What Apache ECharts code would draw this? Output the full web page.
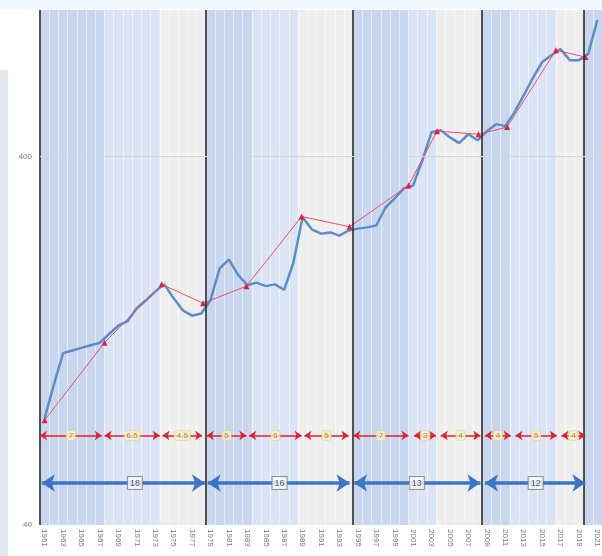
<!DOCTYPE html>
<html lang="en">
<head>
    <meta charset="UTF-8">
    <title>chart</title>
    <script src="https://cdn.jsdelivr.net/npm/echarts@6/dist/echarts.min.js"></script>
    <style>
        html, body { margin: 0; padding: 0; background: #fff; }
        #main { width: 602px; height: 556px; }
    </style>
</head>
<body>
<div id="main"></div>
<script type="text/javascript">
    // categories: one per year
    var firstYear = 1961;
    var years = [];
    for (var yr = 1961; yr <= 2021; yr++) years.push(String(yr));

    // main series (blue line), one value per year 1961..2021
    var values = [78, 96, 117, 119, 121, 123, 125, 132, 139, 143,
        155, 163, 172, 180, 165, 153, 148, 150, 163, 199,
        210, 191, 179, 182, 178, 180, 174, 206, 274, 254,
        247, 249, 244, 252, 255, 257, 260, 291, 308, 328,
        334, 391, 466, 472, 451, 435, 460, 443, 469, 490,
        484, 528, 587, 653, 722, 754, 783, 731, 731, 760, 940];

    // red line through the turning points
    var peakYears = [1961, 1967.5, 1973.7, 1978.2, 1982.9, 1988.9, 1994.1, 2000.5, 2003.6, 2008.1, 2011.2, 2016.5, 2019.7];
    var peakValues = [77, 125, 180, 160, 178, 275, 258, 334, 469, 460, 481, 778, 745];

    // small red spans between turning points
    var redFrom = [1960.5, 1967.5, 1973.8, 1978.6, 1983.2, 1989.2, 1994.5, 2001.1, 2004.0, 2008.8, 2012.1, 2017.1];
    var redTo = [1967.2, 1973.5, 1978.1, 1982.9, 1988.9, 1994.0, 2000.5, 2003.5, 2008.3, 2011.6, 2016.6, 2019.7];
    var redLabels = ['7', '6.5', '4.5', '5', '6', '5', '7', '3', '4', '4', '5', '4'];

    // big blue spans (cycles)
    var blueFrom = [1960.7, 1978.7, 1994.6, 2008.8];
    var blueTo = [1978.4, 1994.1, 2008.3, 2019.7];
    var blueLabels = ['18', '16', '13', '12'];
    var blueLabelAt = [1970.8, 1986.5, 2001.4, 2014.3];

    // cycle starts (black lines) and shaded phases
    var cycleStarts = [1961, 1979, 1995, 2009, 2020];
    var phaseFrom = [1961, 1968, 1974, 1979, 1984, 1989, 1995, 2001, 2004, 2009, 2012, 2017, 2020];
    var phaseKind = ['a', 'b', 'c', 'a', 'b', 'c', 'a', 'b', 'c', 'a', 'b', 'c', 'a'];

    var yTicks = [40, 400];

    var phaseColor = {a: '#c8d6ee', b: '#dbe4f4', c: '#efeeee'};
    var redRow = 70, blueRow = 52;

    function pos(y) { return y - firstYear; }

    var areas = phaseFrom.map(function (f, i) {
        var to = i < phaseFrom.length - 1 ? phaseFrom[i + 1] : 2022;
        return [{xAxis: pos(f) - 0.5, itemStyle: {color: phaseColor[phaseKind[i]]}}, {xAxis: pos(to) - 0.5}];
    });

    var refLines = cycleStarts.map(function (s) {
        return {xAxis: pos(s) - 0.5, lineStyle: {color: '#2a2a2a', width: 1.6, type: 'solid'}, label: {show: false}};
    });
    yTicks.forEach(function (t, i) {
        refLines.push({
            yAxis: t,
            lineStyle: {color: i === 0 ? 'rgba(0,0,0,0)' : '#d6d6d6', width: 1, type: 'solid'},
            label: {show: true, position: 'start', formatter: String(t), color: '#777', fontSize: 8, distance: 8}
        });
    });

    var labelBase = {
        show: true, position: 'inside',
        formatter: function (p) { return p.value[2]; }
    };

    var myChart = echarts.init(document.getElementById('main'));

    var option = {
        backgroundColor: '#ffffff',
        animation: false,
        textStyle: {fontFamily: 'Liberation Sans, Arial, sans-serif'},
        graphic: [
            {type: 'rect', silent: true, z: -10, shape: {x: 0, y: 0, width: 602, height: 9}, style: {fill: '#f3f8fd'}},
            {type: 'rect', silent: true, z: -10, shape: {x: 0, y: 70, width: 8, height: 486}, style: {fill: '#e4e8ed'}}
        ],
        grid: {left: 40, right: -2, top: 10, bottom: 31},
        xAxis: [{
            type: 'category',
            data: years,
            boundaryGap: true,
            z: 2,
            axisLine: {show: false},
            axisTick: {show: false},
            axisLabel: {interval: 1, rotate: -90, fontSize: 8, color: '#777', margin: 4},
            splitLine: {show: true, interval: 0, lineStyle: {color: 'rgba(255,255,255,0.55)', width: 1}}
        }, {
            type: 'value',
            show: false,
            position: 'top',
            min: -0.5,
            max: years.length - 0.5
        }],
        yAxis: {
            type: 'log',
            logBase: 10,
            min: 40,
            max: 1000,
            axisLine: {show: false},
            axisTick: {show: false},
            axisLabel: {show: false},
            splitLine: {show: false}
        },
        series: [
            {
                type: 'line', xAxisIndex: 1, z: 1, silent: true, data: [],
                markArea: {silent: true, data: areas}
            },
            {
                type: 'line', xAxisIndex: 1, z: 2.5, silent: true, data: [],
                markLine: {silent: true, symbol: 'none', data: refLines}
            },
            {
                name: 'value', type: 'line', xAxisIndex: 0, z: 3,
                data: values, symbol: 'none',
                lineStyle: {color: '#5b8dcc', width: 2.5},
                itemStyle: {color: '#5b8dcc'}
            },
            {
                name: 'peaks', type: 'line', xAxisIndex: 1, z: 4,
                data: peakYears.map(function (p, i) { return [pos(p), peakValues[i]]; }),
                symbol: 'triangle', symbolSize: 6,
                lineStyle: {color: '#ea5068', width: 1},
                itemStyle: {color: '#e01f3d'}
            },
            {
                type: 'lines', coordinateSystem: 'cartesian2d', xAxisIndex: 1, yAxisIndex: 0, z: 5,
                symbol: ['arrow', 'arrow'], symbolSize: 7,
                lineStyle: {color: '#e0202c', width: 1.6, opacity: 1, curveness: 0},
                data: redFrom.map(function (f, i) {
                    return {coords: [[pos(f), redRow], [pos(redTo[i]), redRow]]};
                })
            },
            {
                type: 'lines', coordinateSystem: 'cartesian2d', xAxisIndex: 1, yAxisIndex: 0, z: 5,
                symbol: ['arrow', 'arrow'], symbolSize: 13,
                lineStyle: {color: '#3c74c8', width: 3.5, opacity: 1, curveness: 0},
                data: blueFrom.map(function (f, i) {
                    return {coords: [[pos(f), blueRow], [pos(blueTo[i]), blueRow]]};
                })
            },
            {
                type: 'scatter', xAxisIndex: 1, z: 6, silent: true,
                symbol: 'rect', symbolSize: 1, itemStyle: {color: 'rgba(0,0,0,0)'},
                data: redFrom.map(function (f, i) {
                    return [(pos(f) + pos(redTo[i])) / 2, redRow, redLabels[i]];
                }),
                label: echarts.util.extend({
                    fontSize: 8, color: '#7d7250', backgroundColor: '#fdf3c6',
                    borderColor: '#efd27e', borderWidth: 0.8, borderRadius: 2, padding: [1, 2, 0, 2]
                }, labelBase)
            },
            {
                type: 'scatter', xAxisIndex: 1, z: 6, silent: true,
                symbol: 'rect', symbolSize: 1, itemStyle: {color: 'rgba(0,0,0,0)'},
                data: blueLabelAt.map(function (p, i) { return [pos(p), blueRow, blueLabels[i]]; }),
                label: echarts.util.extend({
                    fontSize: 9, color: '#333', backgroundColor: '#ffffff',
                    borderColor: '#808080', borderWidth: 1, padding: [2, 2, 1, 2]
                }, labelBase)
            }
        ]
    };
    myChart.setOption(option);
</script>
</body>
</html>
